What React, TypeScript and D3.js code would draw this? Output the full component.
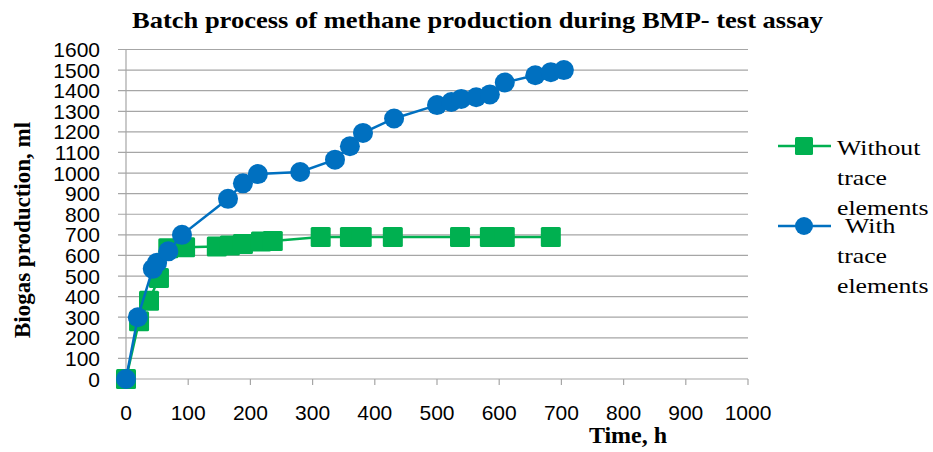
import * as d3 from "d3"

// Time (h) and cumulative biogas (ml)
const timeWithout = [0, 21, 37, 53, 68, 95, 146, 167, 188, 217, 236, 313, 360, 379, 429, 537, 585, 609, 683]
const biogasWithout = [0, 280, 380, 490, 635, 640, 643, 648, 655, 668, 670, 690, 690, 690, 690, 690, 690, 690, 690]

const timeWith = [0, 19, 43, 50, 68, 90, 164, 188, 212, 280, 336, 360, 381, 431, 500, 523, 539, 563, 585, 609, 658, 683, 704]
const biogasWith = [0, 300, 535, 565, 620, 700, 875, 950, 995, 1005, 1065, 1130, 1195, 1265, 1330, 1345, 1360, 1368, 1382, 1440, 1475, 1490, 1500]

const xTicks = d3.range(0, 1001, 100)
const yTicks = d3.range(0, 1601, 100)

const GREEN = "#00B050"
const BLUE = "#0070C0"
const GRID = "#a6a6a6"

const serif = "Liberation Serif"
const sans = "Liberation Sans"

export default function App() {
  const width = 933
  const height = 452
  const margin = { left: 126, right: 933 - 748, top: 49.5, bottom: 452 - 379 }

  const x = d3.scaleLinear().domain([0, 1000]).range([margin.left, width - margin.right])
  const y = d3.scaleLinear().domain([0, 1600]).range([height - margin.bottom, margin.top])

  const without = timeWithout.map((t, i) => [t, biogasWithout[i]] as [number, number])
  const withTE = timeWith.map((t, i) => [t, biogasWith[i]] as [number, number])

  const line = d3
    .line<[number, number]>()
    .x((d) => x(d[0]))
    .y((d) => y(d[1]))

  const sq = 20
  const r = 10

  // reference legend text is a bit wider than plain Times; stretch it horizontally
  const legendText = (tx: number, ty: number, s: string) => (
    <text
      transform={`translate(${tx},${ty}) scale(1.17,1)`}
      fontFamily={serif}
      fontWeight="normal"
      fontSize={22}
    >
      {s}
    </text>
  )

  return (
    <svg
      width={width}
      height={height}
      style={{ position: "absolute", left: 0, top: 0, background: "#fff" }}
    >
      {/* title */}
      <text
        x={132}
        y={28}
        fontFamily={serif}
        fontWeight="bold"
        fontSize={24}
        textLength={691}
        lengthAdjust="spacingAndGlyphs"
      >
        Batch process of methane production during BMP- test assay
      </text>

      {/* grid + y axis */}
      {yTicks.map((t) => (
        <g key={"y" + t}>
          <line x1={x(0) - 8} x2={x(1000)} y1={y(t)} y2={y(t)} stroke={GRID} strokeWidth={1.2} />
          <text x={100} y={y(t) + 7.5} textAnchor="end" fontFamily={sans} fontSize={21}>
            {t}
          </text>
        </g>
      ))}
      <line x1={x(0)} x2={x(0)} y1={y(1600)} y2={y(0)} stroke={GRID} strokeWidth={1.2} />

      {/* x axis */}
      {xTicks.map((t) => (
        <g key={"x" + t}>
          <line x1={x(t)} x2={x(t)} y1={y(0)} y2={y(0) + 6} stroke={GRID} strokeWidth={1.2} />
          <text x={x(t)} y={420} textAnchor="middle" fontFamily={sans} fontSize={21}>
            {t}
          </text>
        </g>
      ))}

      {/* axis titles */}
      <text x={628} y={443} textAnchor="middle" fontFamily={serif} fontWeight="bold" fontSize={24}>
        Time, h
      </text>
      <text
        transform="translate(30, 230) rotate(-90)"
        textAnchor="middle"
        fontFamily={serif}
        fontWeight="bold"
        fontSize={23}
      >
        Biogas production, ml
      </text>

      {/* without trace elements */}
      <path d={line(without) || ""} fill="none" stroke={GREEN} strokeWidth={2.5} />
      {without.map((d, i) => (
        <rect
          key={"g" + i}
          x={x(d[0]) - sq / 2}
          y={y(d[1]) - sq / 2}
          width={sq}
          height={sq}
          rx={1.5}
          fill={GREEN}
        />
      ))}

      {/* with trace elements */}
      <path d={line(withTE) || ""} fill="none" stroke={BLUE} strokeWidth={2.5} />
      {withTE.map((d, i) => (
        <circle key={"b" + i} cx={x(d[0])} cy={y(d[1])} r={r} fill={BLUE} />
      ))}

      {/* legend */}
      <line x1={778} x2={831} y1={146} y2={146} stroke={GREEN} strokeWidth={2.5} />
      <rect x={804 - 9} y={146 - 9} width={18} height={18} rx={1.5} fill={GREEN} />
      {legendText(837, 155, "Without")}
      {legendText(837, 185, "trace")}
      {legendText(837, 215, "elements")}

      <line x1={778} x2={831} y1={226} y2={226} stroke={BLUE} strokeWidth={2.5} />
      <circle cx={804} cy={226} r={9} fill={BLUE} />
      {legendText(845, 233, "With")}
      {legendText(837, 263, "trace")}
      {legendText(837, 293, "elements")}
    </svg>
  )
}
